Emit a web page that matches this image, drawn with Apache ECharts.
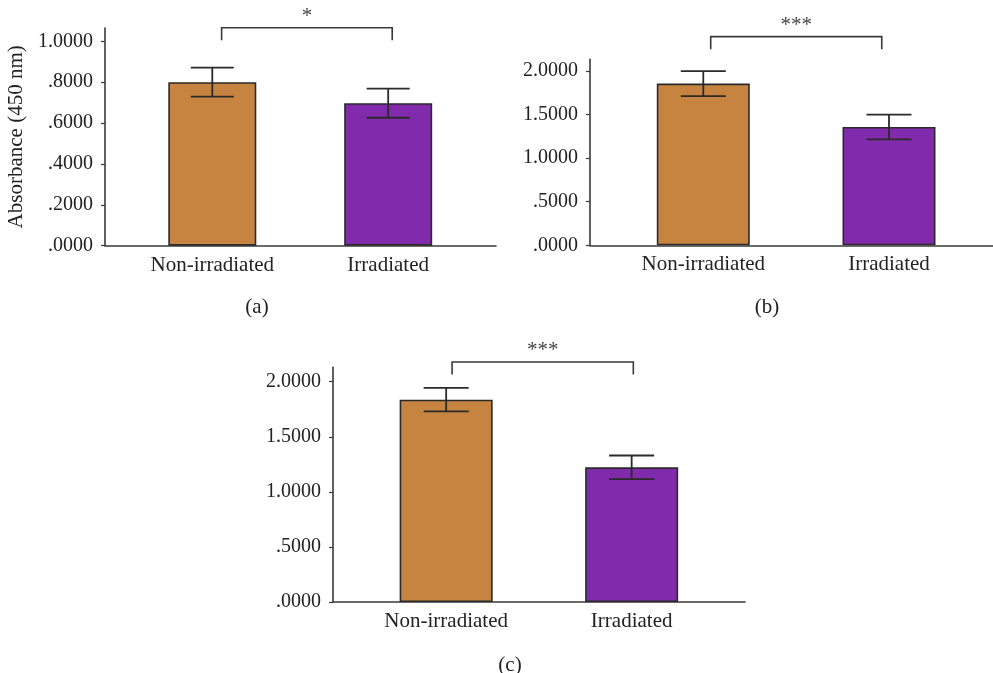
<!DOCTYPE html>
<html><head><meta charset="utf-8">
<script src="https://cdn.jsdelivr.net/npm/echarts@6/dist/echarts.min.js"></script>
<style>html,body{margin:0;padding:0;background:#fff}#c{width:993px;height:673px}</style>
</head><body><div id="c"></div>
<script>
// ---- data ----
var categories = ['Non-irradiated', 'Irradiated'];
var panelLabels = ['(a)', '(b)', '(c)'];
var meansA = [0.800, 0.697];
var errA = [0.071, 0.071];
var meansB = [1.855, 1.357];
var errB = [0.143, 0.142];
var meansC = [1.837, 1.223];
var errC = [0.107, 0.107];
var sigMarks = ['*', '***', '***'];
var sigLevels = [1.066, 2.394, 2.179];
var ticksA = [0, 0.2, 0.4, 0.6, 0.8, 1.0];
var ticksBC = [0, 0.5, 1.0, 1.5, 2.0];
var yName = 'Absorbance (450 nm)';

// ---- layout / style ----
var FONT = 'Liberation Serif';
var colors = ['#C68440', '#812AAC'];
var panels = [
  {means: meansA, err: errA, ticks: ticksA, ymax: 1.065, xmax: 2.613, grid: {left: 105, top: 28, width: 391, height: 217.7}, barW: 88, cap: 21.5, br: [1.053, 2.023], title: {x: 252, y: 292}},
  {means: meansB, err: errB, ticks: ticksBC, ymax: 2.134, xmax: 2.56, grid: {left: 590, top: 59.3, width: 403, height: 186}, barW: 93, cap: 22.5, br: [1.040, 1.961], title: {x: 762, y: 292}},
  {means: meansC, err: errC, ticks: ticksBC, ymax: 2.131, xmax: 2.611, grid: {left: 333, top: 367.3, width: 412, height: 234.7}, barW: 93, cap: 22.5, br: [1.032, 2.009], title: {x: 505, y: 650}}
];

function fmt(v) {
  var s = v.toFixed(4);
  return v < 1 ? s.slice(1) : s;
}

var option = {grid: [], xAxis: [], yAxis: [], series: [], title: [], animation: false};

panels.forEach(function (p, i) {
  option.grid.push(Object.assign({containLabel: false}, p.grid));
  option.title.push({
    text: panelLabels[i], left: p.title.x, top: p.title.y, textAlign: 'center',
    textStyle: {fontFamily: FONT, fontSize: 21, fontWeight: 'normal', color: '#222'}
  });
  option.xAxis.push({
    type: 'value', gridIndex: i, min: 0.39, max: p.xmax,
    splitLine: {show: false},
    axisLine: {show: true, onZero: false, lineStyle: {color: '#3a3a3a', width: 1.6}},
    axisTick: {show: false},
    axisLabel: {
      customValues: [1, 2], margin: 9, color: '#222', fontFamily: FONT, fontSize: 21,
      formatter: function (v) { return categories[Math.round(v) - 1] || ''; }
    }
  });
  option.yAxis.push({
    type: 'value', gridIndex: i, min: 0, max: p.ymax,
    name: i === 0 ? yName : '', nameLocation: 'middle', nameGap: 78, nameRotate: 90,
    nameTextStyle: {fontFamily: FONT, fontSize: 21, color: '#222'},
    splitLine: {show: false},
    axisLine: {show: true, lineStyle: {color: '#3a3a3a', width: 1.6}},
    axisTick: {show: true, customValues: p.ticks, length: 4, lineStyle: {color: '#3a3a3a', width: 1.2}},
    axisLabel: {customValues: p.ticks, margin: 12, color: '#222', fontFamily: FONT, fontSize: 20, formatter: fmt}
  });
  option.series.push({
    type: 'bar', xAxisIndex: i, yAxisIndex: i, barWidth: p.barW,
    data: p.means.map(function (m, k) {
      return {value: [k + 1, m], itemStyle: {color: colors[k]}};
    }),
    itemStyle: {borderColor: '#2a2a2a', borderWidth: 1.6}
  });
  option.series.push({
    type: 'custom', xAxisIndex: i, yAxisIndex: i, z: 5,
    data: p.means.map(function (m, k) { return [k + 1, m - p.err[k], m + p.err[k]]; }),
    renderItem: function (params, api) {
      var lo = api.coord([api.value(0), api.value(1)]);
      var hi = api.coord([api.value(0), api.value(2)]);
      var st = {stroke: '#2a2a2a', lineWidth: 1.8};
      return {type: 'group', children: [
        {type: 'line', shape: {x1: hi[0], y1: hi[1], x2: lo[0], y2: lo[1]}, style: st},
        {type: 'line', shape: {x1: hi[0] - p.cap, y1: hi[1], x2: hi[0] + p.cap, y2: hi[1]}, style: st},
        {type: 'line', shape: {x1: lo[0] - p.cap, y1: lo[1], x2: lo[0] + p.cap, y2: lo[1]}, style: st}
      ]};
    }
  });
  option.series.push({
    type: 'custom', xAxisIndex: i, yAxisIndex: i, z: 5, clip: false,
    data: [[p.br[0], p.br[1], sigLevels[i]]],
    renderItem: function (params, api) {
      var a = api.coord([api.value(0), api.value(2)]);
      var b = api.coord([api.value(1), api.value(2)]);
      var drop = 12.5;
      return {type: 'group', children: [
        {type: 'polyline', shape: {points: [[a[0], a[1] + drop], [a[0], a[1]], [b[0], b[1]], [b[0], b[1] + drop]]},
          style: {stroke: '#3a3a3a', lineWidth: 1.6, fill: null}},
        {type: 'text', style: {text: sigMarks[i], x: (a[0] + b[0]) / 2, y: a[1] - 1, align: 'center', verticalAlign: 'bottom',
          fontFamily: FONT, fontSize: 21, fill: '#444'}}
      ]};
    }
  });
});

var chart = echarts.init(document.getElementById('c'), null, {renderer: 'canvas'});
chart.setOption(option);
</script>
</body></html>
